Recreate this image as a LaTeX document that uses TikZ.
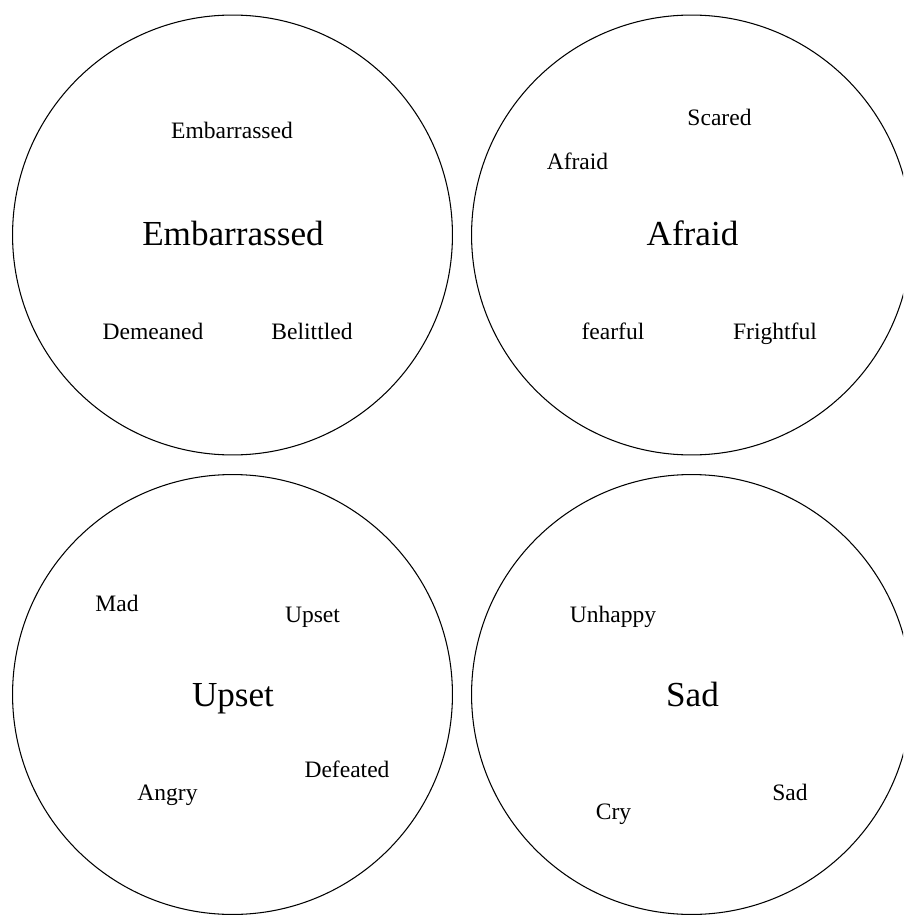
\documentclass[tikz,border=0pt]{standalone}
\usepackage{fontspec}
\setmainfont{Liberation Serif}
\usepackage{tikz}
\tikzset{
  bubble/.style  = {shape=circle, draw, line width=0.6pt,
                    minimum size=8.8cm, inner sep=0pt},
  feeling/.style = {anchor=base, inner sep=0pt, font=\fontsize{20}{24}\selectfont},
  word/.style    = {anchor=base, inner sep=0pt, font=\fontsize{13.4}{16}\selectfont}
}
\begin{document}
\begin{tikzpicture}[x=0.02cm, y=-0.02cm]
  \useasboundingbox (0,0) rectangle (903,915);
  \clip (0,0) rectangle (903,915);
  % the four circles
  \node [bubble] (embarrassed) at (232.5,235) {};
  \node [bubble] (afraid)      at (691.5,235) {};
  \node [bubble] (upset)       at (232.5,694.5) {};
  \node [bubble] (sad)         at (691.5,694.5) {};
  % top left
  \node [feeling] (embTitle) at (233,246) {Embarrassed};
  \node [word] (embA) at (232,139) {Embarrassed};
  \node [word] (embB) at (153,339) {Demeaned};
  \node [word] (embC) at (312,339) {Belittled};
  % top right
  \node [feeling] (afrTitle) at (692.5,246) {Afraid};
  \node [word] (afrA) at (719.5,126) {Scared};
  \node [word] (afrB) at (577.5,170) {Afraid};
  \node [word] (afrC) at (613,339) {fearful};
  \node [word] (afrD) at (775,339) {Frightful};
  % bottom left
  \node [feeling] (upsTitle) at (233,706) {Upset};
  \node [word] (upsA) at (117,611) {Mad};
  \node [word] (upsB) at (312.5,622) {Upset};
  \node [word] (upsC) at (347,777) {Defeated};
  \node [word] (upsD) at (167.5,800) {Angry};
  % bottom right
  \node [feeling] (sadTitle) at (692.5,706) {Sad};
  \node [word] (sadA) at (613,622) {Unhappy};
  \node [word] (sadB) at (790,800) {Sad};
  \node [word] (sadC) at (613.5,819) {Cry};
\end{tikzpicture}
\end{document}
